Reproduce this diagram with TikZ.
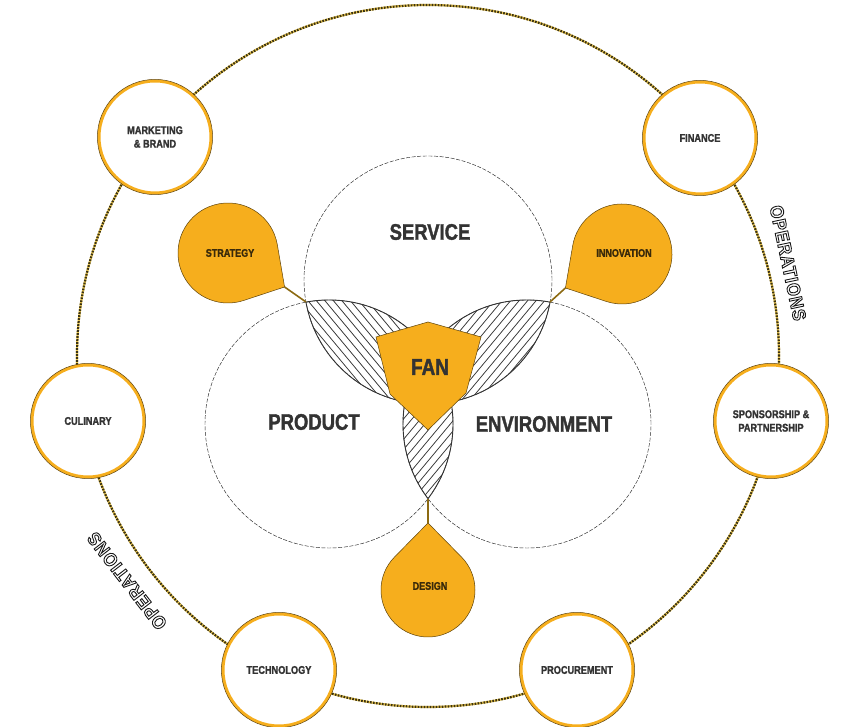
\documentclass[tikz,border=0pt]{standalone}
\usepackage{fontspec}
\setmainfont{Liberation Sans}[FakeStretch=0.82, BoldFeatures={FakeBold=1.6}]
\newfontfamily\opfont{Liberation Sans}[FakeStretch=0.9,LetterSpace=5]
\usetikzlibrary{calc}
\definecolor{gold}{HTML}{F6AE1D}
\definecolor{golddark}{HTML}{5E4208}
\definecolor{conn}{HTML}{8C6A12}
\definecolor{txt}{HTML}{333333}
\definecolor{tdtxt}{HTML}{3A2A0A}
\definecolor{dotc}{HTML}{3A3212}
\definecolor{doty}{HTML}{E9C44A}
\tikzset{
 smallcirc/.style={circle, minimum size=112pt, inner sep=0pt, fill=white, draw=gold, line width=3pt, align=center, font=\fontsize{11.2}{13.5}\selectfont\bfseries, text=txt},
 venncirc/.style={draw=black!85, line width=0.45pt, dash pattern=on 4pt off 1.6pt},
 vennlabel/.style={font=\fontsize{22.5}{26}\selectfont\bfseries, text=txt},
 tdlabel/.style={font=\fontsize{11}{12}\selectfont\bfseries, text=tdtxt},
 tdshape/.style={fill=gold, draw=golddark, line width=0.5pt},
 connline/.style={draw=conn, line width=1.6pt},
 hatchline/.style={draw=black!80, line width=0.75pt},
 lensline/.style={draw=black!80, line width=0.9pt},
 oplabel/.style={font=\opfont\fontsize{18.5}{20}\selectfont\bfseries, inner sep=0pt, text=black!90},
}
\newcommand{\hollow}[1]{\special{pdf:literal direct 1 Tr 0.9 w}#1\special{pdf:literal direct 0 Tr}}
\newcommand{\teardrop}[6]{%
  \pgfmathsetmacro{\tdA}{acos(#4/#6)}
  \pgfmathsetmacro{\tdS}{#5+\tdA}
  \pgfmathsetmacro{\tdE}{#5+360-\tdA}
  \coordinate (#1) at (#2,#3);
  \coordinate (#1-tip) at ($(#1)+(#5:#6)$);
  \path[tdshape] (#1-tip) -- ($(#1)+(\tdS:#4)$) arc[start angle=\tdS, end angle=\tdE, radius=#4] -- cycle;
}
\begin{document}
\begin{tikzpicture}[x=1pt,y=1pt]
\useasboundingbox (0,0) rectangle (856,727);
\fill[white] (0,0) rectangle (856,727);
\coordinate (O) at (428,371);
% outer ring
\draw[doty, line width=2.2pt] (O) circle[radius=351];
\draw[dotc, line width=2.2pt, dash pattern=on 1.7pt off 1.3pt] (O) circle[radius=351];
% small circles
\node[smallcirc] (mkt) at (155,590) {MARKETING\\\& BRAND};
\node[smallcirc] (fin) at (700,589) {FINANCE};
\node[smallcirc] (cul) at (88,306) {CULINARY};
\node[smallcirc] (spo) at (771,306) {SPONSORSHIP \&\\PARTNERSHIP};
\node[smallcirc] (tec) at (279,57) {TECHNOLOGY};
\node[smallcirc] (pro) at (577,57) {PROCUREMENT};
\foreach \n in {mkt,fin,cul,spo,tec,pro}{
  \draw[golddark, line width=0.5pt] (\n.center) circle[radius=57.6];
}
% venn circles
\coordinate (S) at (428,447);
\coordinate (P) at (329,303);
\coordinate (E) at (527,303);
\foreach \c in {S,P,E}{\fill[white] (\c) circle[radius=124];}
\foreach \c in {S,P,E}{\draw[venncirc] (\c) circle[radius=124];}
% hatching
\begin{scope}
 \clip (S) circle[radius=124]; \clip (P) circle[radius=124];
 \foreach \c in {150,158.5,...,710} \draw[hatchline] (\c-150,551) -- (\c+150,191);
\end{scope}
\begin{scope}
 \clip (S) circle[radius=124]; \clip (E) circle[radius=124];
 \foreach \c in {150,158.5,...,710} \draw[hatchline] (\c-150,191) -- (\c+150,551);
\end{scope}
\begin{scope}
 \clip (P) circle[radius=124]; \clip (E) circle[radius=124];
 \foreach \c in {150,158.5,...,710} \draw[hatchline] (\c-150,191) -- (\c+150,551);
\end{scope}
\foreach \a/\b in {S/P,S/E,P/S,P/E,E/S,E/P}{
 \begin{scope}\clip (\b) circle[radius=124]; \draw[lensline] (\a) circle[radius=124];\end{scope}
}
% venn labels
\node[vennlabel] (servL) at (430,495) {SERVICE};
\node[vennlabel] (prodL) at (314,305) {PRODUCT};
\node[vennlabel] (envL) at (544,303) {ENVIRONMENT};
% FAN
\draw[fill=gold, draw=golddark, line width=0.5pt] (376,390) -- (428,405) -- (481,390) -- (466,334) -- (428,297) -- (390,333) -- cycle;
\node[vennlabel, font=\fontsize{23}{26}\selectfont\bfseries] (fan) at (430,360) {FAN};
% teardrops
\coordinate (v1) at (306,425);
\coordinate (v2) at (550,425);
\coordinate (v3) at (428,228);
\teardrop{strat}{228}{474}{50}{-31}{66}
\teardrop{innov}{622}{473}{50}{211}{66}
\teardrop{des}{428}{137}{47}{90}{67}
\draw[connline] (strat-tip) -- (v1);
\draw[connline] (innov-tip) -- (v2);
\draw[connline] (des-tip) -- (v3);
\node[tdlabel] (stratL) at (230,474) {STRATEGY};
\node[tdlabel] (innovL) at (624,474) {INNOVATION};
\node[tdlabel] (desL) at (430,141) {DESIGN};
% operations
\node[oplabel, rotate=-78] (opR) at (788,464) {\hollow{OPERATIONS}};
\node[oplabel, rotate=127.7] (opL) at (127,146) {\hollow{OPERATIONS}};
\end{tikzpicture}
\end{document}
